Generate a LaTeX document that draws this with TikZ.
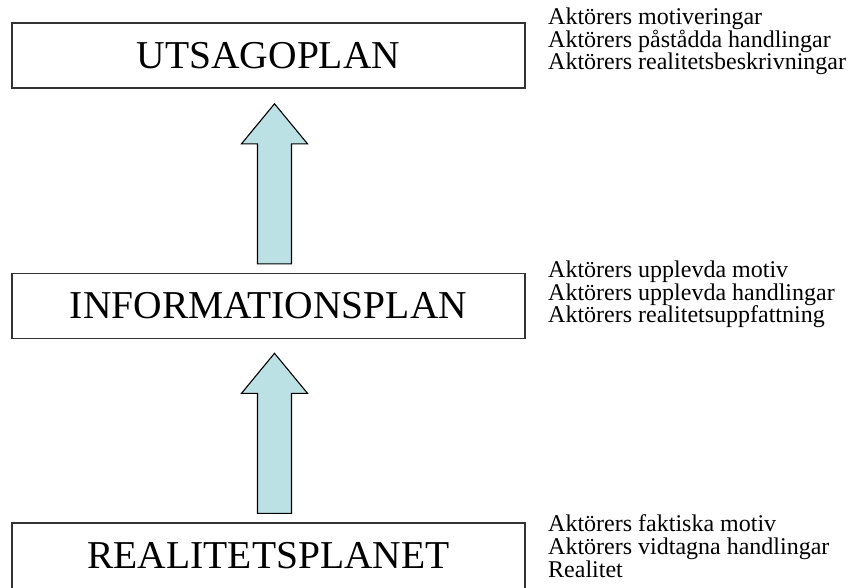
\documentclass[tikz,border=0pt]{standalone}
\usepackage{fontspec}
\setmainfont{Liberation Serif}
\usetikzlibrary{calc,positioning}

\begin{document}
\begin{tikzpicture}[x=1pt,y=-1pt,
	plan/.style={draw=black!80, line width=1.6pt, minimum width=513pt,
		minimum height=65pt, inner sep=0pt, font=\fontsize{39.5}{40}\selectfont},
	uparrow/.style={draw=black, line width=1.1pt, fill=pilfarg, line join=miter},
	aktor/.style={anchor=base west, inner sep=0pt, font=\fontsize{24}{24}\selectfont}]
	\definecolor{pilfarg}{RGB}{188,225,228}
	\useasboundingbox (0,0) rectangle (850,587);
	% planen
	\node[plan] (utsago) at (268.5,55.5) {UTSAGOPLAN};
	\node[plan] (info) at (268.5,306) {INFORMATIONSPLAN};
	\node[plan, minimum height=72pt, text depth=7pt] (real) at (268.5,559) {REALITETSPLANET};
	% pilar
	\coordinate (tip1) at ($(utsago.south)+(6,15)$);
	\coordinate (tip2) at ($(info.south)+(6,14)$);
	\draw[uparrow] (tip1) -- ++(33,40) -- ++(-16,0) -- ++(0,120) -- ++(-34,0)
		-- ++(0,-120) -- ++(-16,0) -- cycle;
	\draw[uparrow] (tip2) -- ++(33,40) -- ++(-16,0) -- ++(0,120) -- ++(-34,0)
		-- ++(0,-120) -- ++(-16,0) -- cycle;
	% texter
	\node[aktor] (u1) at (548,24.5) {Aktörers motiveringar};
	\node[aktor] (u2) at (548,47) {Aktörers påstådda handlingar};
	\node[aktor] (u3) at (548,69.5) {Aktörers realitetsbeskrivningar};
	\node[aktor] (i1) at (548,277.5) {Aktörers upplevda motiv};
	\node[aktor] (i2) at (548,300) {Aktörers upplevda handlingar};
	\node[aktor] (i3) at (548,322.5) {Aktörers realitetsuppfattning};
	\node[aktor] (r1) at (548,531) {Aktörers faktiska motiv};
	\node[aktor] (r2) at (548,554) {Aktörers vidtagna handlingar};
	\node[aktor] (r3) at (548,577) {Realitet};
\end{tikzpicture}
\end{document}
